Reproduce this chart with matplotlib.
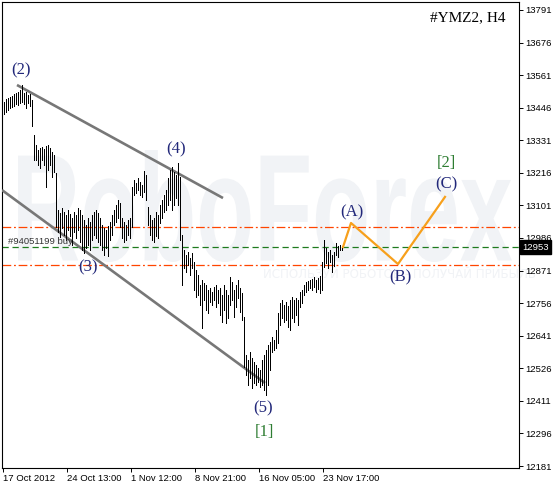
import matplotlib
matplotlib.use('Agg')
import matplotlib.pyplot as plt
import numpy as np
from matplotlib.textpath import TextPath
from matplotlib.patches import PathPatch
from matplotlib.font_manager import FontProperties
from matplotlib.transforms import Affine2D, blended_transform_factory

# ---------------- data ----------------
highs = [13466, 13477, 13480, 13484, 13487, 13494, 13498, 13501, 13508, 13526,
         13498, 13501, 13491, 13494, 13473, 13350, 13314, 13297, 13304, 13307,
         13300, 13311, 13314, 13304, 13290, 13279, 13215, 13085, 13074, 13092,
         13078, 13067, 13085, 13071, 13057, 13078, 13067, 13092, 13085, 13067,
         13050, 13032, 13057, 13042, 13067, 13078, 13085, 13074, 13057, 13032,
         13021, 13014, 13028, 13042, 13067, 13085, 13102, 13120, 13110, 13057,
         13042, 13032, 13050, 13057, 13166, 13191, 13180, 13198, 13184, 13173,
         13223, 13208, 13095, 13067, 13050, 13057, 13078, 13067, 13102, 13120,
         13138, 13155, 13198, 13226, 13237, 13219, 13208, 13251, 13201, 12997,
         12944, 12926, 12936, 12915, 12933, 12901, 12873, 12855, 12820, 12838,
         12827, 12820, 12802, 12809, 12795, 12813, 12820, 12802, 12809, 12785,
         12820, 12802, 12785, 12848, 12831, 12802, 12820, 12838, 12809, 12792,
         12707, 12573, 12555, 12583, 12562, 12548, 12537, 12527, 12520, 12555,
         12573, 12590, 12608, 12619, 12636, 12626, 12661, 12721, 12756, 12767,
         12749, 12760, 12746, 12767, 12778, 12767, 12774, 12767, 12795, 12802,
         12820, 12831, 12834, 12838, 12841, 12848, 12838, 12845, 12852, 12901,
         12979, 12951, 12936, 12944, 12926, 12936, 12968, 12958, 12961, 12958]
lows = [13424, 13431, 13438, 13445, 13448, 13452, 13459, 13456, 13463, 13466,
        13459, 13445, 13463, 13452, 13381, 13261, 13261, 13244, 13233, 13261,
        13244, 13166, 13226, 13244, 13201, 13219, 13025, 13007, 12990, 13021,
        12997, 12979, 13014, 12993, 12961, 13007, 12986, 13014, 12972, 12944,
        12933, 12951, 12961, 12944, 12979, 12997, 12986, 12972, 12961, 12944,
        12926, 12951, 12922, 12979, 12997, 13032, 13042, 13057, 13025, 12986,
        12972, 12979, 12997, 12986, 13025, 13138, 13145, 13155, 13138, 13131,
        13148, 13120, 13032, 12997, 12979, 12972, 12993, 12986, 13039, 13057,
        13078, 13085, 13102, 13120, 13085, 13102, 13127, 13102, 12979, 12820,
        12880, 12866, 12891, 12855, 12880, 12802, 12778, 12785, 12749, 12668,
        12767, 12732, 12721, 12760, 12749, 12767, 12742, 12756, 12714, 12689,
        12732, 12686, 12703, 12749, 12767, 12707, 12742, 12774, 12725, 12696,
        12530, 12502, 12467, 12492, 12456, 12474, 12467, 12477, 12460, 12467,
        12449, 12432, 12467, 12520, 12583, 12590, 12598, 12615, 12679, 12703,
        12689, 12696, 12672, 12661, 12703, 12689, 12714, 12679, 12742, 12756,
        12785, 12795, 12802, 12809, 12802, 12813, 12795, 12806, 12792, 12802,
        12884, 12898, 12880, 12901, 12866, 12887, 12926, 12919, 12944, 12944]

x_labels = ['17 Oct 2012', '24 Oct 13:00', '1 Nov 12:00', '8 Nov 21:00',
            '16 Nov 05:00', '23 Nov 17:00']
x_label_bars = [0, 32, 64, 96, 128, 160]
y_ticks = list(range(12181, 13792, 115))

order_price = 12953
order_text = '#94051199 buy'
level_upper = 13025
level_lower = 12891
current_price = 12953

upper_channel_bars = [7, 110]
upper_channel_prices = [13526, 13127]
lower_channel_bars = [-0.5, 131]
lower_channel_prices = [13155, 12474]

wave_bars = [170, 174, 197.5, 221]
wave_prices = [12954, 13039, 12894, 13131]

title = '#YMZ2, H4'

# ---------------- figure ----------------
W, H = 559, 487
fig = plt.figure(figsize=(W / 100, H / 100), dpi=100)
fig.patch.set_facecolor('white')
ax = fig.add_axes([2 / W, 19 / H, 517 / W, 466 / H])
ax.set_xlim(-0.5, 258)
ax.set_ylim(12174, 13819)

# watermark (pixel coordinates, y measured from the top)
def pix_tr():
    return Affine2D().scale(1 / W, 1 / H) + fig.transFigure

fp = FontProperties(family='Liberation Sans', weight='bold')
tp = TextPath((0, 0), 'RoboForex', size=100, prop=fp)
ext = tp.get_extents()
x0, x1, ytop, ybot = 18, 512, 150, 262
sx = (x1 - x0) / ext.width
sy = (ybot - ytop) / ext.height
tr = Affine2D().translate(-ext.x0, -ext.y0).scale(sx, sy).translate(x0, H - ybot) + pix_tr()
ax.add_patch(PathPatch(tp, transform=tr, facecolor='#F1F3F6', edgecolor='none', zorder=0.5))
ax.text(263 / W, 1 - 274 / H, 'ИСПОЛЬЗУЙ РОБОТОВ - ПОЛУЧАЙ ПРИБЫЛЬ', fontsize=8.6,
        transform=fig.transFigure, color='#F1F3F6', ha='left', va='center',
        family='DejaVu Sans', zorder=0.6, clip_on=False)

# horizontal levels
ax.axhline(level_upper, color='#FF4500', lw=0.9, dashes=(7, 2.2, 1.5, 2.2), zorder=2)
ax.axhline(level_lower, color='#FF4500', lw=0.9, dashes=(7, 2.2, 1.5, 2.2), zorder=2)
ax.axhline(order_price, color='#1E7B1E', lw=0.9, dashes=(5, 3), zorder=2)

# channel lines
ax.plot(upper_channel_bars, upper_channel_prices, color='#777777', lw=1.9, zorder=3,
        solid_capstyle='butt')
ax.plot(lower_channel_bars, lower_channel_prices, color='#777777', lw=1.9, zorder=3,
        solid_capstyle='butt')

# bars
idx = np.arange(len(highs))
ax.vlines(idx + 0.25, lows, highs, color='black', lw=0.72, zorder=4, antialiased=False)

# wave path
ax.plot(wave_bars, wave_prices, color='#F7A01C', lw=1.6, zorder=5)

# wave labels
navy = '#22287A'
green = '#2E7D32'
lab_kw = dict(textcoords='offset pixels', ha='center', va='center',
              family='Liberation Serif', fontsize=12, zorder=6)
ax.annotate('(2)', xy=(9, highs[9]), xytext=(0, 15), color=navy, **lab_kw)
ax.annotate('(4)', xy=(87, highs[87]), xytext=(-1, 14), color=navy, **lab_kw)
ax.annotate('(3)', xy=(43, lows[43]), xytext=(-1, -18), color=navy, **lab_kw)
ax.annotate('(5)', xy=(131, lows[131]), xytext=(-2, -13), color=navy, **lab_kw)
ax.annotate('[1]', xy=(131, lows[131]), xytext=(-1, -37), color=green, **lab_kw)
ax.annotate('(A)', xy=(wave_bars[1], wave_prices[1]), xytext=(1, 11), color=navy, **lab_kw)
ax.annotate('(B)', xy=(wave_bars[2], wave_prices[2]), xytext=(2, -13), color=navy, **lab_kw)
ax.annotate('(C)', xy=(wave_bars[3], wave_prices[3]), xytext=(1, 13), color=navy, **lab_kw)
ax.annotate('[2]', xy=(wave_bars[3], wave_prices[3]), xytext=(1, 34), color=green, **lab_kw)

# order text
bl = blended_transform_factory(ax.transAxes, ax.transData)
ax.annotate(order_text, xy=(6 / 517, order_price), xycoords=bl, xytext=(0, 6),
            textcoords='offset pixels', ha='left', va='center', fontsize=6.8,
            family='Liberation Sans', color='#333333', zorder=6)

# axes styling
for s in ax.spines.values():
    s.set_linewidth(0.8)
    s.set_color('black')
ax.yaxis.tick_right()
ax.set_yticks(y_ticks)
ax.set_yticklabels([str(v) for v in y_ticks])
ax.tick_params(axis='y', length=3, width=0.7, pad=1.5, labelsize=6.8, colors='black')
ax.set_xticks(x_label_bars)
ax.set_xticklabels(x_labels, ha='left')
ax.tick_params(axis='x', length=3, width=0.7, pad=1.5, labelsize=6.8, colors='black')
for lbl in ax.get_xticklabels() + ax.get_yticklabels():
    lbl.set_family('Liberation Sans')

# current price tag
ax.text(1 + 3 / 517, current_price, str(current_price), transform=bl, ha='left', va='center',
        fontsize=6.8, family='Liberation Sans', color='white', zorder=7, clip_on=False,
        bbox=dict(boxstyle='square,pad=0.25', facecolor='black', edgecolor='black'))

# title
fig.text(506 / W, 1 - 18 / H, title, ha='right', va='center', fontsize=11,
         family='Liberation Serif', color='black')

fig.savefig('out.png', dpi=100, facecolor='white')
